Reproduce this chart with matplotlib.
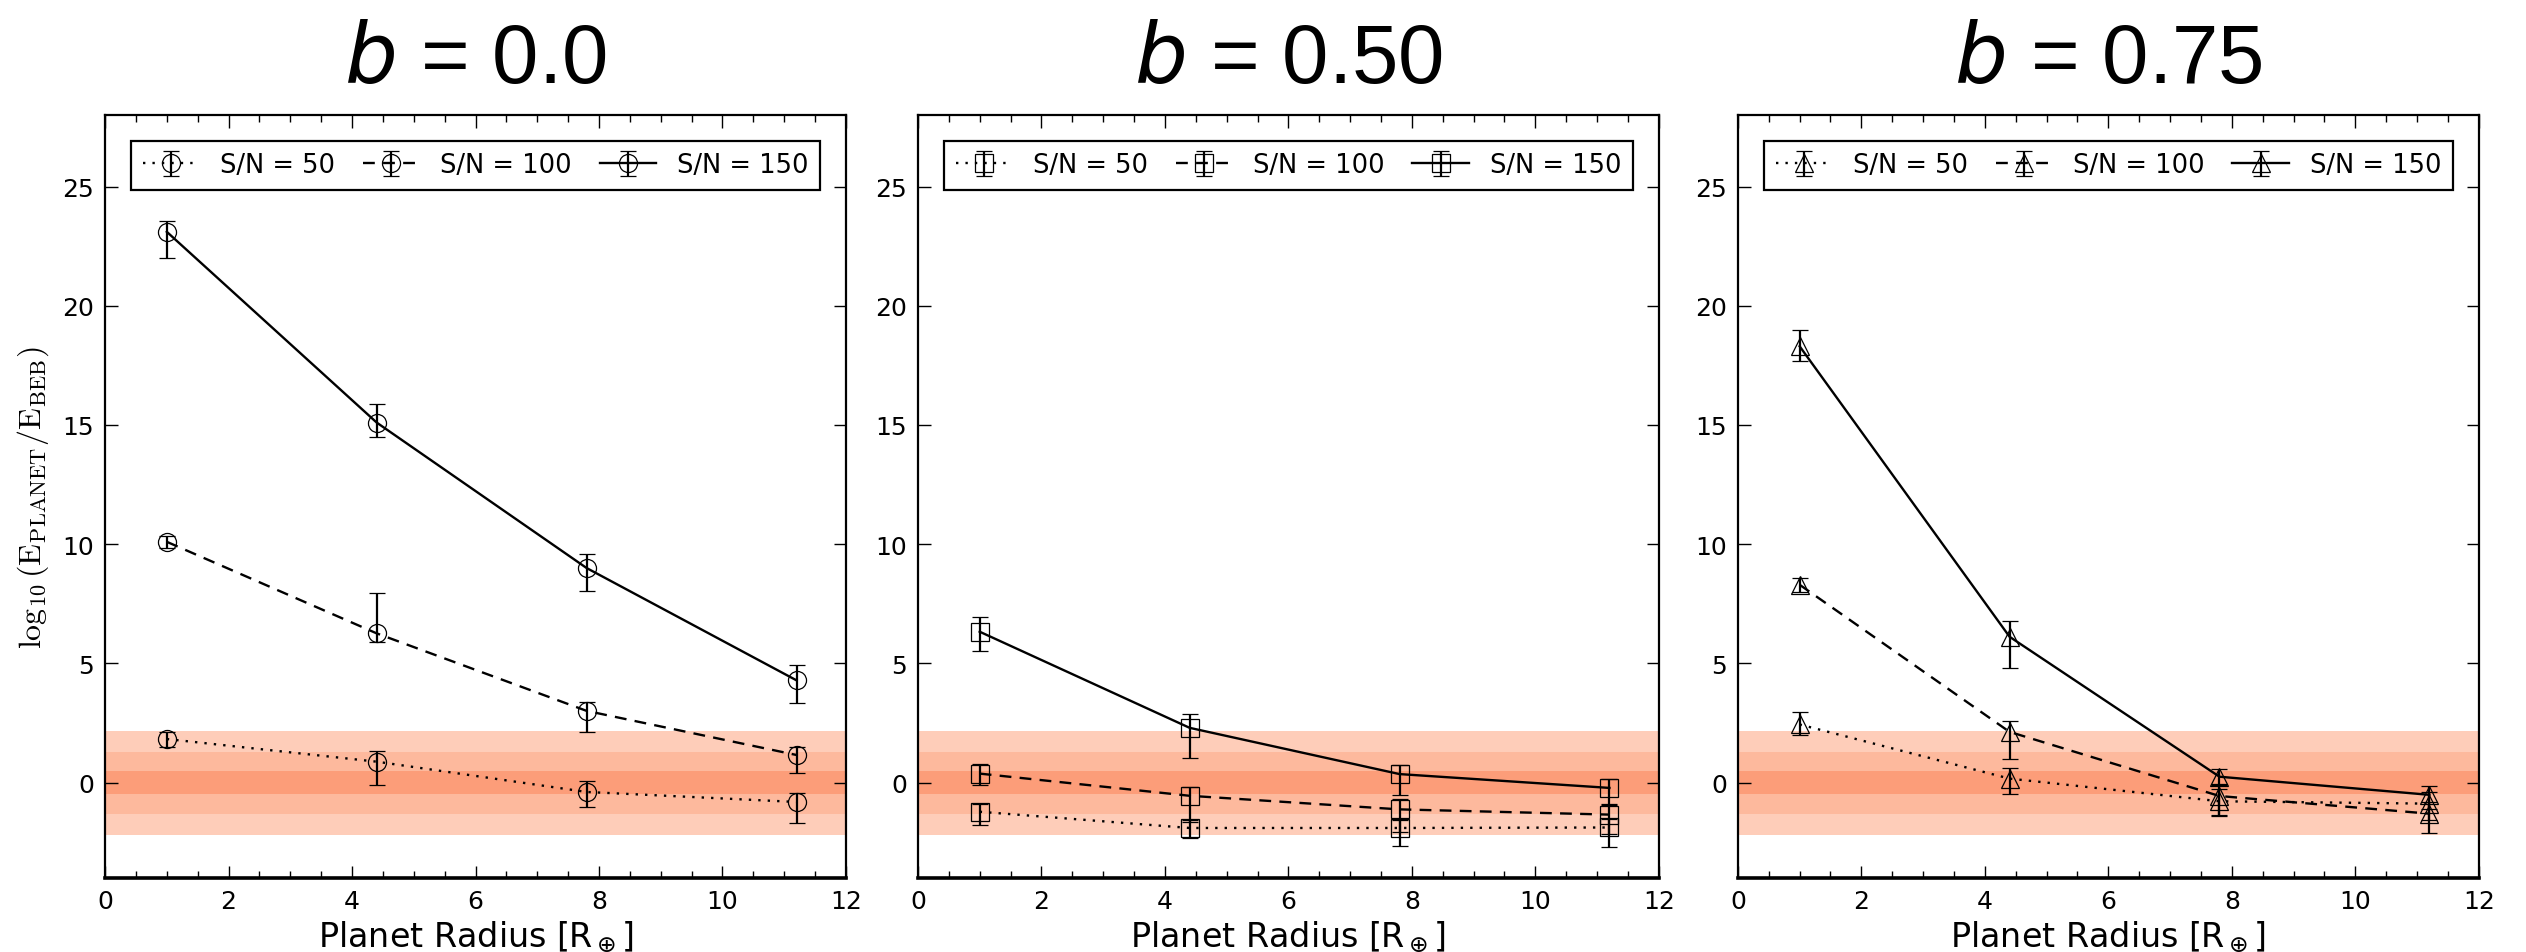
import numpy as np
import matplotlib
matplotlib.use("Agg")
import matplotlib.pyplot as plt
from matplotlib.ticker import MultipleLocator

# planet radii (Earth radii)
radius = [1.0, 4.4, 7.8, 11.2]

impact_params = ["0.0", "0.50", "0.75"]
markers = ["o", "s", "^"]
snr_labels = ["S/N = 50", "S/N = 100", "S/N = 150"]
line_styles = [(0, (1, 3)), (0, (5, 3.5)), "-"]

# log10(E_planet / E_beb) for S/N = 50, 100, 150 in each panel
b00_sn50 = [1.83, 0.88, -0.39, -0.81]
b00_sn50_lo = [0.33, 0.98, 0.61, 0.87]
b00_sn50_hi = [0.31, 0.45, 0.46, 0.39]
b00_sn100 = [10.1, 6.26, 3.01, 1.16]
b00_sn100_lo = [0.25, 0.38, 0.9, 0.77]
b00_sn100_hi = [0.25, 1.7, 0.38, 0.35]
b00_sn150 = [23.1, 15.1, 9.0, 4.29]
b00_sn150_lo = [1.1, 0.6, 0.95, 0.94]
b00_sn150_hi = [0.45, 0.8, 0.6, 0.65]

b50_sn50 = [-1.22, -1.9, -1.9, -1.88]
b50_sn50_lo = [0.57, 0.42, 0.76, 0.81]
b50_sn50_hi = [0.34, 0.32, 0.35, 0.35]
b50_sn100 = [0.38, -0.55, -1.12, -1.34]
b50_sn100_lo = [0.49, 1.1, 0.95, 0.8]
b50_sn100_hi = [0.39, 0.35, 0.45, 0.4]
b50_sn150 = [6.33, 2.3, 0.36, -0.22]
b50_sn150_lo = [0.81, 1.26, 0.86, 0.68]
b50_sn150_hi = [0.63, 0.59, 0.37, 0.36]

b75_sn50 = [2.44, 0.17, -0.78, -0.88]
b75_sn50_lo = [0.44, 0.65, 0.6, 0.7]
b75_sn50_hi = [0.54, 0.43, 0.5, 0.5]
b75_sn100 = [8.3, 2.13, -0.56, -1.3]
b75_sn100_lo = [0.3, 1.13, 0.8, 0.8]
b75_sn100_hi = [0.3, 0.46, 0.5, 0.5]
b75_sn150 = [18.3, 6.12, 0.25, -0.51]
b75_sn150_lo = [0.6, 1.32, 0.35, 0.6]
b75_sn150_hi = [0.7, 0.68, 0.34, 0.36]

panels = [
    [(b00_sn50, b00_sn50_lo, b00_sn50_hi), (b00_sn100, b00_sn100_lo, b00_sn100_hi), (b00_sn150, b00_sn150_lo, b00_sn150_hi)],
    [(b50_sn50, b50_sn50_lo, b50_sn50_hi), (b50_sn100, b50_sn100_lo, b50_sn100_hi), (b50_sn150, b50_sn150_lo, b50_sn150_hi)],
    [(b75_sn50, b75_sn50_lo, b75_sn50_hi), (b75_sn100, b75_sn100_lo, b75_sn100_hi), (b75_sn150, b75_sn150_lo, b75_sn150_hi)],
]

# Kass & Raftery evidence thresholds: 3, 20, 150
band_limits = [np.log10(150), np.log10(20), np.log10(3)]
band_colors = ["#fecdb9", "#fdb99d", "#fc9d79"]

fig = plt.figure(figsize=(25.26, 9.53), dpi=100)
lefts = [0.0416, 0.3634, 0.688]
width = 0.2933
bottom, top = 0.0776, 0.8783

for k in range(3):
    ax = fig.add_axes([lefts[k], bottom, width, top - bottom])

    for lim, col in zip(band_limits, band_colors):
        ax.axhspan(-lim, lim, color=col, lw=0, zorder=0)

    handles = []
    for (vals, lo, hi), ls, lab in zip(panels[k], line_styles, snr_labels):
        h = ax.errorbar(radius, vals, yerr=[lo, hi], color="black", ls=ls, lw=1.7,
                        marker=markers[k], ms=13, mfc="none", mec="black", mew=0.9,
                        elinewidth=1.6, capsize=6, capthick=1.3, label=lab, zorder=3)
        handles.append(h)

    ax.set_xlim(0, 12)
    ax.set_ylim(-4, 28)
    ax.xaxis.set_major_locator(MultipleLocator(2))
    ax.xaxis.set_minor_locator(MultipleLocator(0.5))
    ax.set_yticks([0, 5, 10, 15, 20, 25])
    ax.tick_params(which="both", direction="in", top=True, right=True, labelsize=18, pad=8)
    ax.tick_params(which="major", length=9, width=1)
    ax.tick_params(which="minor", length=5, width=1)
    for sp in ax.spines.values():
        sp.set_linewidth(1.6)
    ax.spines["bottom"].set_linewidth(2.6)

    ax.set_xlabel(r"Planet Radius [R$_\oplus$]", fontsize=24, labelpad=4)
    if k == 0:
        ax.set_ylabel(r"$\log_{10}(\mathrm{E_{PLANET}/E_{BEB}})$", fontsize=23,
                      math_fontfamily="cm", labelpad=8)

    ax.set_title(r"$b$ = " + impact_params[k], fontsize=60, pad=24,
                 family="Liberation Sans", math_fontfamily="dejavusans")

    leg = ax.legend(handles=handles, loc="upper left", ncol=3, mode="expand",
                    bbox_to_anchor=(0.018, 0.983, 0.964, 0), fontsize=18.5,
                    fancybox=False, edgecolor="black", framealpha=1,
                    handlelength=2.2, handletextpad=0.8, borderpad=0.45)
    leg.get_frame().set_linewidth(1.6)

fig.savefig("out.png", dpi=100)
